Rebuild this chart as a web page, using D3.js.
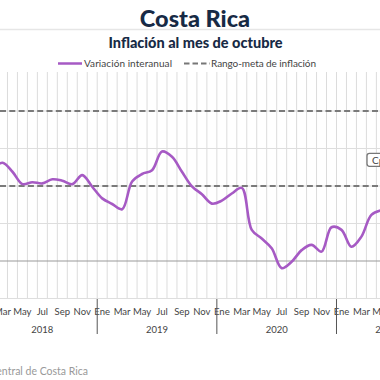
<!DOCTYPE html>
<html><head><meta charset="utf-8">
<script src="https://cdn.jsdelivr.net/npm/d3@7"></script>
<style>html,body{margin:0;padding:0;background:#fff;overflow:hidden}</style>
</head><body>
<svg id="c" width="380" height="380"></svg>
<script>
const monthNames = ["Ene","Feb","Mar","Abr","May","Jun","Jul","Ago","Sep","Oct","Nov","Dic"];
const years = [2018, 2019, 2020, 2021];
// period: Feb 2018 – Oct 2021
const startYear = 2018, startMonth = 1, endYear = 2021, endMonth = 9;
// Variación interanual (%), Feb 2018 – May 2021 (visible portion)
const inflation = [2.45, 2.62, 2.38, 2.05, 2.10, 2.07, 2.18, 2.14, 2.05, 2.29, 1.98,
  1.67, 1.52, 1.38, 2.12, 2.32, 2.42, 2.92, 2.78, 2.38, 1.99, 1.78, 1.53,
  1.61, 1.80, 1.95, 0.83, 0.60, 0.34, -0.19, -0.02, 0.29, 0.43, 0.25, 0.90,
  0.83, 0.38, 0.65, 1.23, 1.35];
const targetRange = [2, 4];
const yTicks = [-1, 0, 1, 2, 3, 4, 5];

const periods = [];
for (let y = startYear; y <= endYear; y++) {
  for (let m = 0; m < 12; m++) {
    if (y === startYear && m < startMonth) continue;
    if (y === endYear && m > endMonth) continue;
    periods.push({y, m, key: y + "-" + m});
  }
}
const svg = d3.select("#c");
const x = d3.scaleBand().domain(periods.map(p => p.key)).range([-12.47, 436.2]).paddingInner(0).paddingOuter(0);
const y = d3.scaleLinear().domain([-1, 5]).range([298.5, 73.5]);
const plotTop = 72, plotBottom = 299;

// title
svg.append("text").attr("x", 195).attr("y", 27).attr("text-anchor", "middle")
  .attr("font-family", "Lato").attr("font-weight", 900).attr("font-size", 23.5)
  .attr("fill", "#172a45").text("Costa Rica");
svg.append("line").attr("x1", 0).attr("x2", 380).attr("y1", 29.5).attr("y2", 29.5)
  .attr("stroke", "#e6e6e6").attr("stroke-width", 1.5);
svg.append("text").attr("x", 195.5).attr("y", 47.5).attr("text-anchor", "middle")
  .attr("font-family", "Lato").attr("font-weight", 900).attr("font-size", 14.5)
  .attr("fill", "#172a45").text("Inflación al mes de octubre");

// legend
const lg = svg.append("g").attr("font-family", "Lato").attr("font-size", 10).attr("fill", "#444");
lg.append("line").attr("x1", 58).attr("x2", 82).attr("y1", 63.5).attr("y2", 63.5)
  .attr("stroke", "#a65ac4").attr("stroke-width", 2.5);
lg.append("text").attr("x", 84).attr("y", 67).attr("textLength", 88).text("Variación interanual");
lg.append("line").attr("x1", 184).attr("x2", 210).attr("y1", 63.5).attr("y2", 63.5)
  .attr("stroke", "#777").attr("stroke-width", 2).attr("stroke-dasharray", "5.5,3");
lg.append("text").attr("x", 211).attr("y", 67).attr("textLength", 105).text("Rango-meta de inflación");

// vertical gridlines at band boundaries
const bounds = periods.map(p => x(p.key));
svg.append("g").selectAll("line").data(bounds).join("line")
  .attr("x1", d => d).attr("x2", d => d).attr("y1", plotTop).attr("y2", plotBottom)
  .attr("stroke", "#dcdcdc").attr("stroke-width", 1);

// horizontal gridlines
svg.append("g").selectAll("line").data(yTicks.filter(t => t !== 5)).join("line")
  .attr("x1", 0).attr("x2", 380).attr("y1", d => y(d)).attr("y2", d => y(d))
  .attr("stroke", d => d === 0 ? "#9a9a9a" : "#dedede").attr("stroke-width", d => d === 0 ? 1.2 : 1);

// target range dashed lines
svg.append("g").selectAll("line").data(targetRange).join("line")
  .attr("x1", 0).attr("x2", 380).attr("y1", d => y(d)).attr("y2", d => y(d))
  .attr("stroke", "#7a7a7a").attr("stroke-width", 2).attr("stroke-dasharray", "6,3.3");

// line
const line = d3.line().x((d, i) => x(periods[i].key) + x.bandwidth() / 2).y(d => y(d))
  .curve(d3.curveCatmullRom.alpha(0.5));
svg.append("path").attr("d", line(inflation)).attr("fill", "none")
  .attr("stroke", "#a65ac4").attr("stroke-width", 2.6).attr("stroke-linejoin", "round");

// data label box (cropped)
svg.append("rect").attr("x", 367).attr("y", 153.3).attr("width", 40).attr("height", 13)
  .attr("rx", 2.5).attr("fill", "#fff").attr("stroke", "#777").attr("stroke-width", 1.3);
svg.append("text").attr("x", 372).attr("y", 163.5).attr("font-family", "Lato").attr("font-size", 10)
  .attr("fill", "#444").text("Cpi");

// x axis: month labels
const ax = svg.append("g").attr("font-family", "Lato").attr("font-size", 9.5).attr("fill", "#444");
ax.selectAll("text.m").data(periods.filter(p => p.m % 2 === 0)).join("text").attr("class", "m")
  .attr("x", p => x(p.key) + x.bandwidth() / 2).attr("y", 315).attr("text-anchor", "middle")
  .text(p => monthNames[p.m]);
// year labels
ax.selectAll("text.y").data(years).join("text").attr("class", "y")
  .attr("x", yr => {
    const ps = periods.filter(p => p.y === yr);
    return (x(ps[0].key) + x(ps[ps.length - 1].key) + x.bandwidth()) / 2;
  }).attr("y", 332.5).attr("text-anchor", "middle").text(yr => yr);
// year separators
ax.selectAll("line.sep").data(years.slice(1)).join("line").attr("class", "sep")
  .attr("x1", yr => x(yr + "-0")).attr("x2", yr => x(yr + "-0"))
  .attr("y1", plotBottom).attr("y2", 334).attr("stroke", "#555").attr("stroke-width", 1);

// source
svg.append("text").attr("x", 88).attr("y", 375).attr("text-anchor", "end")
  .attr("font-family", "Lato").attr("font-size", 10.5).attr("fill", "#999")
  .text("Fuente: Banco Central de Costa Rica");
</script>
</body></html>
